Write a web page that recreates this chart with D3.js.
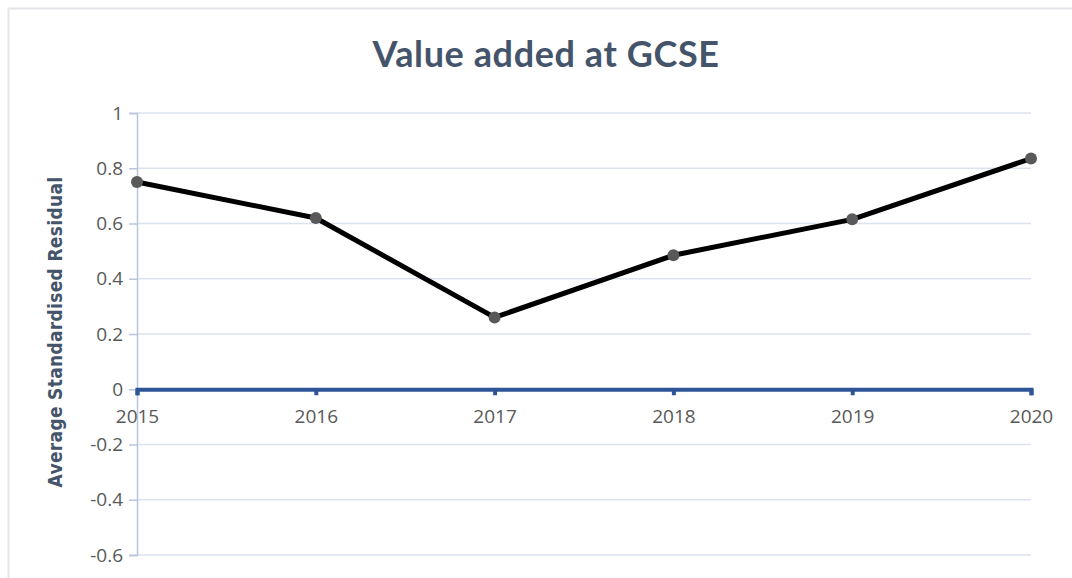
<!DOCTYPE html>
<html>
<head>
<meta charset="utf-8">
<script src="https://cdn.jsdelivr.net/npm/d3@7"></script>
<style>
  body { margin: 0; background: #fff; }
  text { font-family: Lato, "Open Sans", sans-serif; }
</style>
</head>
<body>
<div id="chart"></div>
<script>
// chart data
var years = ["2015", "2016", "2017", "2018", "2019", "2020"];
var residuals = [0.75, 0.62, 0.26, 0.485, 0.615, 0.835];
var yTicks = [-0.6, -0.4, -0.2, 0, 0.2, 0.4, 0.6, 0.8, 1];

var W = 1072, H = 578;
var margin = {top: 113, right: 41, bottom: 23, left: 137};
var width = W - margin.left - margin.right,
    height = H - margin.top - margin.bottom;

var svg = d3.select("#chart").append("svg")
  .attr("width", W).attr("height", H);

// chart area border
svg.append("rect")
  .attr("x", 8.5).attr("y", 8.5)
  .attr("width", W + 20).attr("height", H + 20)
  .attr("fill", "none").attr("stroke", "#e2e5ea").attr("stroke-width", 2);

svg.append("text")
  .attr("x", 546).attr("y", 67)
  .attr("text-anchor", "middle")
  .style("font-size", "36px").style("font-weight", "bold")
  .style("letter-spacing", "0.6px")
  .style("fill", "#44546a")
  .text("Value added at GCSE");

var g = svg.append("g").attr("transform", "translate(" + margin.left + "," + margin.top + ")");

var x = d3.scalePoint().domain(years).range([0, width]);
var y = d3.scaleLinear().domain([-0.6, 1]).range([height, 0]);

// gridlines
g.selectAll(".grid").data(yTicks).enter().append("line")
  .attr("class", "grid")
  .attr("x1", 0).attr("x2", width)
  .attr("y1", d => y(d)).attr("y2", d => y(d))
  .attr("stroke", "#dde3ee").attr("stroke-width", 1.3);

// y axis
var yAxis = g.append("g")
  .call(d3.axisLeft(y).tickValues(yTicks).tickSize(8).tickPadding(6)
    .tickFormat(d => String(+d.toFixed(1))));
yAxis.select(".domain").attr("stroke", "#b7c6de").attr("stroke-width", 1.5);
yAxis.selectAll(".tick line").attr("stroke", "#b7c6de").attr("stroke-width", 1.5);
yAxis.selectAll(".tick text").style("font-size", "19px").style("fill", "#595959")
  .style("font-family", "'Open Sans', sans-serif");

// x axis at zero
var xAxis = g.append("g")
  .attr("transform", "translate(0," + y(0) + ")")
  .call(d3.axisBottom(x).tickSize(6).tickPadding(14));
xAxis.select(".domain").attr("stroke", "#2f5597").attr("stroke-width", 4);
xAxis.selectAll(".tick line").attr("stroke", "#2f5597").attr("stroke-width", 4);
xAxis.selectAll(".tick text").style("font-size", "19px").style("fill", "#595959")
  .style("font-family", "'Open Sans', sans-serif");

// series line
var line = d3.line()
  .x((d, i) => x(years[i]))
  .y(d => y(d));

g.append("path")
  .datum(residuals)
  .attr("d", line)
  .attr("fill", "none")
  .attr("stroke", "#000")
  .attr("stroke-width", 5)
  .attr("stroke-linejoin", "round");

g.selectAll(".pt").data(residuals).enter().append("circle")
  .attr("class", "pt")
  .attr("cx", (d, i) => x(years[i]))
  .attr("cy", d => y(d))
  .attr("r", 6)
  .attr("fill", "#595959");

// y axis label
svg.append("text")
  .attr("transform", "translate(62," + 332 + ") rotate(-90)")
  .attr("text-anchor", "middle")
  .style("font-size", "19px").style("font-weight", "bold")
  .style("font-family", "'DejaVu Sans Condensed', 'DejaVu Sans', sans-serif")
  .style("font-stretch", "condensed")
  .style("letter-spacing", "0.3px")
  .style("fill", "#44546a")
  .text("Average Standardised Residual");
</script>
</body>
</html>
